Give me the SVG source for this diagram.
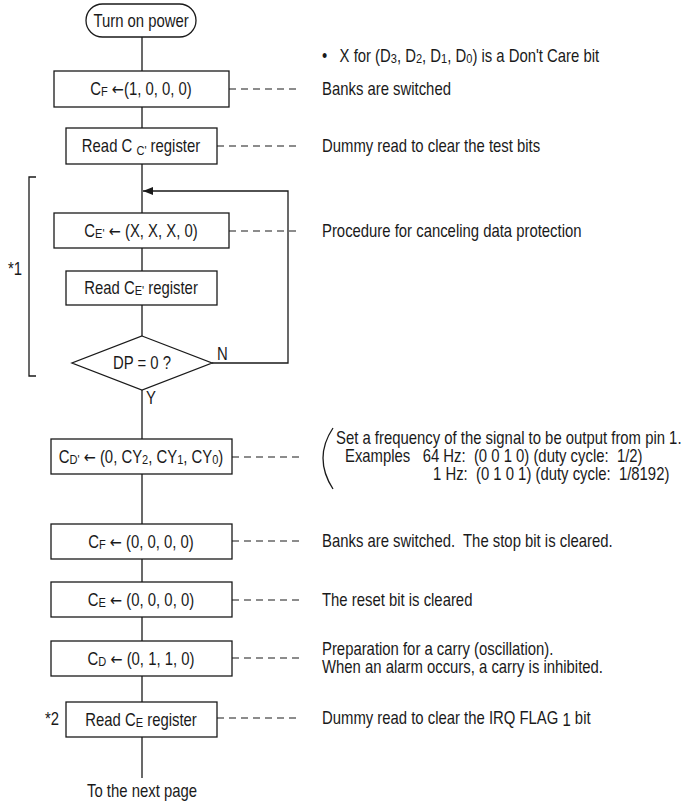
<svg xmlns="http://www.w3.org/2000/svg" width="691" height="802" viewBox="0 0 691 802">
<style>
text{font-family:"Liberation Sans Narrow","Liberation Sans",Arial,sans-serif;font-size:17.5px;fill:#1a1a1a;transform-box:fill-box;transform-origin:0 0;transform:scaleX(.85)}
.c{text-anchor:middle;transform-origin:50% 0}
.box{fill:#fff;stroke:#1a1a1a;stroke-width:1.3}
.ln{fill:none;stroke:#1a1a1a;stroke-width:1.3}
.d{fill:none;stroke:#1a1a1a;stroke-width:1.1;stroke-dasharray:7,5}
.s{font-size:13px}
.a{font-family:"DejaVu Sans",sans-serif;font-size:17px}
</style>
<defs>
<marker id="ah" markerWidth="10" markerHeight="8" refX="10" refY="4" orient="auto" markerUnits="userSpaceOnUse">
<path d="M0,0 L10,4 L0,8 Z" fill="#1a1a1a"/>
</marker>
</defs>
<rect width="691" height="802" fill="#fff"/>
<g id="connectors">
<path class="ln" d="M142,37 V71 M142,107 V128 M142,164 V213 M142,248 V271 M142,305 V336 M142,390 V439 M142,474 V524 M142,559 V582 M142,617 V641 M142,676 V702 M142,737 V778"/>
<path class="ln" d="M212,363 H288 V191 H143" marker-end="url(#ah)"/>
<path class="d" d="M229,89 H300 M217,146 H300 M229,231 H300 M232,457 H302 M232,541 H300 M232,600 H300 M232,658 H300 M217,718 H300"/>
<path class="ln" d="M36,177 H29 V376 H36"/>
<path class="ln" d="M333,428 Q313,458 333,489"/>
</g>
<g id="start">
<rect class="box" x="86" y="4" width="110" height="33" rx="16.5"/>
<text class="c" x="141" y="27">Turn on power</text>
</g>
<g id="n1">
<rect class="box" x="54" y="71" width="175" height="36"/>
<text class="c" x="141" y="95">C<tspan class="s" dy="1">F</tspan><tspan dy="-1"> </tspan><tspan class="a">←</tspan>(1, 0, 0, 0)</text>
</g>
<g id="n2">
<rect class="box" x="66" y="128" width="151" height="36"/>
<text class="c" x="141" y="152">Read C <tspan class="s" dy="3">C'</tspan><tspan dy="-3"> register</tspan></text>
</g>
<g id="n3">
<rect class="box" x="54" y="213" width="175" height="35"/>
<text class="c" x="141" y="237">C<tspan class="s" dy="1">E'</tspan><tspan dy="-1"> </tspan><tspan class="a">←</tspan> (X, X, X, 0)</text>
</g>
<g id="n4">
<rect class="box" x="66" y="271" width="151" height="34"/>
<text class="c" x="141" y="294">Read C<tspan class="s" dy="1">E'</tspan><tspan dy="-1"> register</tspan></text>
</g>
<g id="n5">
<polygon class="box" points="142,336 212,363 142,390 72,363"/>
<text class="c" x="142" y="369">DP = 0 ?</text>
<text x="217" y="360">N</text>
<text x="146" y="404">Y</text>
</g>
<g id="n6">
<rect class="box" x="51" y="439" width="181" height="35"/>
<text class="c" x="141" y="463">C<tspan class="s" dy="1">D'</tspan><tspan dy="-1"> </tspan><tspan class="a">←</tspan> (0, CY<tspan class="s" dy="1">2</tspan><tspan dy="-1">, CY</tspan><tspan class="s" dy="1">1</tspan><tspan dy="-1">, CY</tspan><tspan class="s" dy="1">0</tspan><tspan dy="-1">)</tspan></text>
</g>
<g id="n7">
<rect class="box" x="51" y="524" width="181" height="35"/>
<text class="c" x="141" y="548">C<tspan class="s" dy="1">F</tspan><tspan dy="-1"> </tspan><tspan class="a">←</tspan> (0, 0, 0, 0)</text>
</g>
<g id="n8">
<rect class="box" x="51" y="582" width="181" height="35"/>
<text class="c" x="141" y="606">C<tspan class="s" dy="1">E</tspan><tspan dy="-1"> </tspan><tspan class="a">←</tspan> (0, 0, 0, 0)</text>
</g>
<g id="n9">
<rect class="box" x="51" y="641" width="181" height="35"/>
<text class="c" x="141" y="665">C<tspan class="s" dy="1">D</tspan><tspan dy="-1"> </tspan><tspan class="a">←</tspan> (0, 1, 1, 0)</text>
</g>
<g id="n10">
<rect class="box" x="66" y="702" width="151" height="35"/>
<text class="c" x="141" y="726">Read C<tspan class="s" dy="1">E</tspan><tspan dy="-1"> register</tspan></text>
<text x="45" y="725">*2</text>
</g>
<g id="notes">
<text x="8" y="275">*1</text>
<text x="322" y="62" xml:space="preserve">•   X for (D<tspan class="s" dy="1">3</tspan><tspan dy="-1">, D</tspan><tspan class="s" dy="1">2</tspan><tspan dy="-1">, D</tspan><tspan class="s" dy="1">1</tspan><tspan dy="-1">, D</tspan><tspan class="s" dy="1">0</tspan><tspan dy="-1">) is a Don't Care bit</tspan></text>
<text x="322" y="95">Banks are switched</text>
<text x="322" y="152">Dummy read to clear the test bits</text>
<text x="322" y="237">Procedure for canceling data protection</text>
<text x="336" y="444">Set a frequency of the signal to be output from pin 1.</text>
<text x="345" y="462" xml:space="preserve">Examples   64 Hz:  (0 0 1 0) (duty cycle:  1/2)</text>
<text x="433" y="480" xml:space="preserve">1 Hz:  (0 1 0 1) (duty cycle:  1/8192)</text>
<text x="322" y="547" xml:space="preserve">Banks are switched.  The stop bit is cleared.</text>
<text x="322" y="606">The reset bit is cleared</text>
<text x="322" y="655">Preparation for a carry (oscillation).</text>
<text x="322" y="673">When an alarm occurs, a carry is inhibited.</text>
<text x="322" y="724">Dummy read to clear the IRQ FLAG <tspan dy="2">1</tspan><tspan dy="-2"> bit</tspan></text>
<text class="c" x="142" y="797">To the next page</text>
</g>
</svg>
